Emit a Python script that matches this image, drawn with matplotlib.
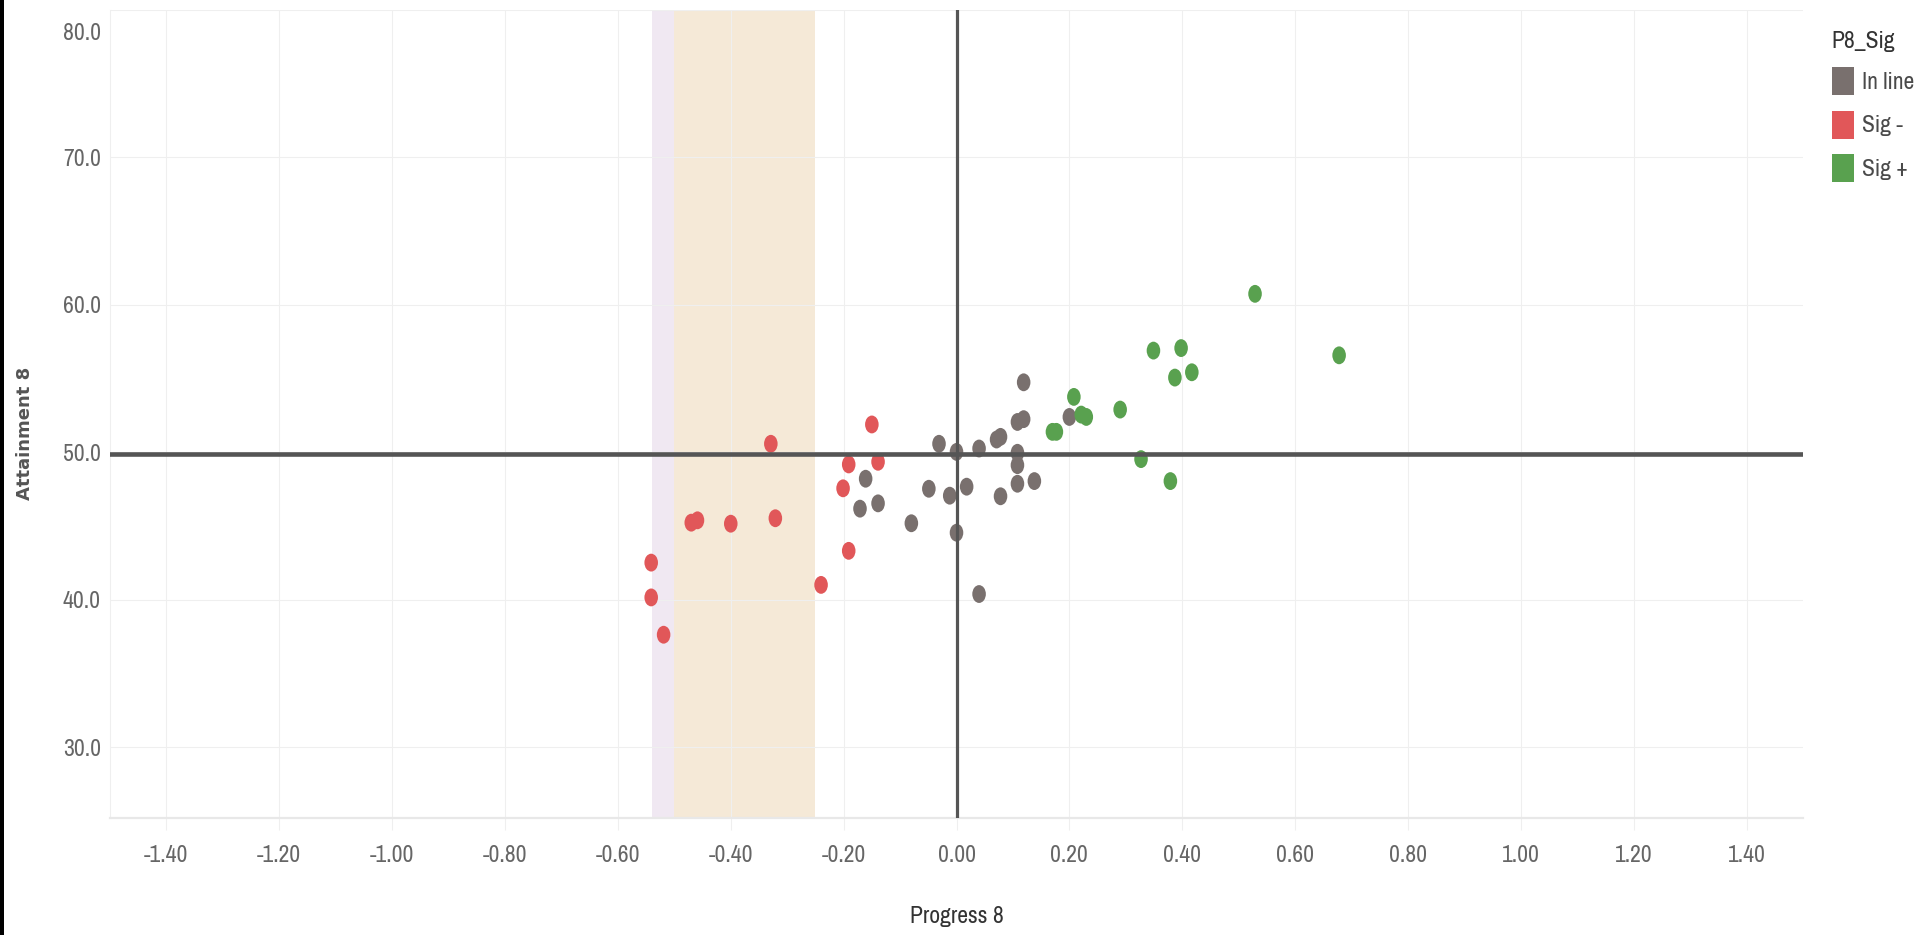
import numpy as np
import matplotlib
matplotlib.use("Agg")
import matplotlib.pyplot as plt
from matplotlib import font_manager
from matplotlib.font_manager import FontProperties
from matplotlib.path import Path
from matplotlib.transforms import Affine2D
from matplotlib.patches import Patch, Rectangle

# Progress 8 / Attainment 8 per school, split by significance group
inline_p8 = [0.119, 0.108, 0.119, 0.200, 0.071, 0.078, -0.031, 0.000, 0.040, 0.108,
             0.108, 0.108, 0.138, 0.078, 0.018, -0.012, -0.049, -0.080, 0.000, -0.161,
             -0.171, -0.139, 0.040]
inline_a8 = [54.75, 52.06, 52.25, 52.40, 50.87, 51.05, 50.58, 50.03, 50.26, 49.97,
             49.13, 47.87, 48.05, 47.02, 47.67, 47.06, 47.53, 45.19, 44.55, 48.21,
             46.18, 46.54, 40.39]

sigminus_p8 = [-0.150, -0.329, -0.191, -0.139, -0.201, -0.470, -0.459, -0.400, -0.321,
               -0.191, -0.240, -0.541, -0.541, -0.519]
sigminus_a8 = [51.89, 50.58, 49.18, 49.36, 47.56, 45.23, 45.39, 45.16, 45.53,
               43.32, 41.01, 42.52, 40.16, 37.63]

sigplus_p8 = [0.529, 0.678, 0.349, 0.398, 0.387, 0.417, 0.290, 0.208, 0.221, 0.230,
              0.170, 0.177, 0.327, 0.379]
sigplus_a8 = [60.75, 56.58, 56.90, 57.07, 55.07, 55.43, 52.90, 53.76, 52.56, 52.40,
              51.39, 51.39, 49.54, 48.05]

groups = ["In line", "Sig -", "Sig +"]
colors = ["#79706e", "#e15759", "#59a14f"]

# shaded bands on the progress axis and the two reference lines
band_lavender = (-0.54, -0.50)
band_beige = (-0.50, -0.25)
ref_p8 = 0.0
ref_a8 = 49.9

xticks = [-1.4, -1.2, -1.0, -0.8, -0.6, -0.4, -0.2, 0.0, 0.2, 0.4, 0.6, 0.8, 1.0, 1.2, 1.4]
yticks = [30, 40, 50, 60, 70, 80]


# narrow font like the Tableau original, picked by file so the width is real
def find_font(key):
    for f in font_manager.fontManager.ttflist:
        name = (f.fname + f.name).lower().replace(" ", "")
        if key in name and f.style == "normal" and f.weight in (400, "normal", "regular"):
            return f.fname
    return None


fname = find_font("narrow") or find_font("robotocondensed")
if fname:
    fs, fs_leg = 17, 17
    def fp(size):
        return FontProperties(fname=fname, size=size)
else:
    fs, fs_leg = 15, 14
    def fp(size):
        return FontProperties(family="Roboto", size=size)

W, H = 1919, 935
fig = plt.figure(figsize=(W / 100, H / 100), dpi=100)
fig.patch.set_facecolor("white")
ax = fig.add_axes([110 / W, 1 - 818 / H, 1693 / W, 808 / H])

ax.axvspan(*band_lavender, color="#f0e8f2", lw=0, zorder=0.2)
ax.axvspan(*band_beige, color="#f5e9d7", lw=0, zorder=0.2)

# slightly tall dots
ellipse = Path.unit_circle().transformed(Affine2D().scale(0.76, 1.0))
for px, py, c in zip([inline_p8, sigminus_p8, sigplus_p8],
                     [inline_a8, sigminus_a8, sigplus_a8], colors):
    ax.scatter(px, py, s=165, marker=ellipse, color=c, edgecolors="none", zorder=3)

ax.axhline(ref_a8, color="#555555", lw=3.3, zorder=4)
ax.axvline(ref_p8, color="#555555", lw=2.3, zorder=4)

ax.set_xlim(-1.5, 1.5)
ax.set_ylim(25.2, 80.0)
ax.set_xticks(xticks)
ax.set_xticklabels([f"{t:.2f}" for t in xticks], fontproperties=fp(fs), color="#666666")
ax.set_yticks(yticks)
ax.set_yticklabels([f"{t:.1f}" for t in yticks[:-1]] + [""], fontproperties=fp(fs),
                   color="#666666")
# Tableau pushes the top label down into the pane
ax.annotate(f"{yticks[-1]:.1f}", xy=(0, yticks[-1]), xycoords=("axes fraction", "data"),
            xytext=(-9, -23), textcoords="offset pixels", ha="right", va="center",
            fontproperties=fp(fs), color="#666666")

ax.set_axisbelow(True)
ax.grid(True, color="#efefef", lw=0.8)
ax.tick_params(axis="x", direction="out", length=8.6, width=0.8, color="#efefef", pad=11)
ax.tick_params(axis="y", length=0, pad=6.5)
for s in ["top", "right"]:
    ax.spines[s].set_visible(False)
ax.spines["bottom"].set_color("#e8e8e8")
ax.spines["bottom"].set_linewidth(1.6)
ax.spines["left"].set_color("#efefef")
ax.spines["left"].set_linewidth(0.8)

ax.set_xlabel("Progress 8", fontproperties=fp(fs), color="#333333")
ax.xaxis.set_label_coords(0.5, -0.1225)
ax.xaxis.label.set_va("center")
ax.set_ylabel("Attainment 8", family="DejaVu Sans", fontsize=13, fontweight="semibold",
              color="#555555")
ax.yaxis.set_label_coords(-0.0502, 0.476)
ax.yaxis.label.set_va("center")

handles = [Patch(facecolor=c, edgecolor="none") for c in colors]
px_per_em = fs_leg * 100 / 72
leg = fig.legend(handles, groups, title="P8_Sig", loc="upper left",
                 bbox_to_anchor=(1820 / W, 1 - 19 / H), frameon=False, borderpad=0,
                 handlelength=22 / px_per_em, handleheight=34 / px_per_em,
                 labelspacing=15.5 / px_per_em, handletextpad=0.35, alignment="left",
                 prop=fp(fs_leg), title_fontproperties=fp(fs_leg))
leg.get_title().set_color("#333333")
for t in leg.get_texts():
    t.set_color("#4a4a4a")

# thin dark strip on the left edge of the screenshot
fig.add_artist(Rectangle((0, 0), 4 / W, 1, transform=fig.transFigure,
                         facecolor="black", edgecolor="none"))

fig.savefig("out.png", dpi=100)
